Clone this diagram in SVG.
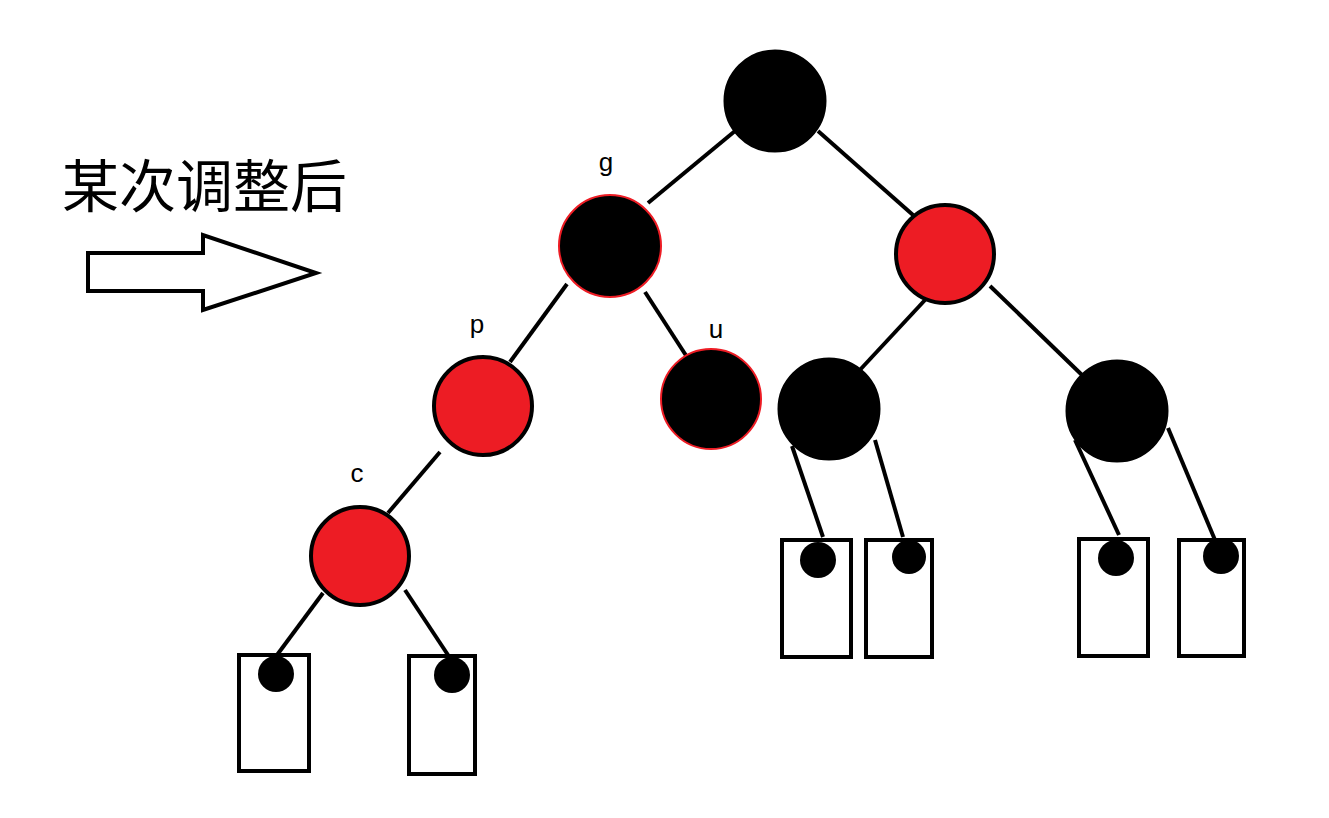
<svg xmlns="http://www.w3.org/2000/svg" width="1329" height="818" viewBox="0 0 1329 818">
<style>
.edge{stroke:#000;stroke-width:4;fill:none;stroke-linecap:butt}
.blk{fill:#000;stroke:#000;stroke-width:3}
.blkr{fill:#000;stroke:#ed1c24;stroke-width:2}
.red{fill:#ed1c24;stroke:#000;stroke-width:4}
.box{fill:#fff;stroke:#000;stroke-width:4}
.dot{fill:#000}
.lbl{font-family:"Liberation Sans",Arial,sans-serif;font-size:26px;fill:#000}
.title{font-family:"Noto Sans CJK SC","Noto Sans",sans-serif;font-size:57px;fill:#000}
</style>
<rect width="1329" height="818" fill="#fff"/>
<text class="title" x="62" y="207">某次调整后</text>
<polygon points="88,253 203,253 203,235 316,273 203,310 203,291 88,291" fill="#fff" stroke="#000" stroke-width="4" stroke-linejoin="miter"/>
<g id="connectors">
<line class="edge" x1="735" y1="131" x2="648" y2="203"/>
<line class="edge" x1="818" y1="131" x2="913" y2="215"/>
<line class="edge" x1="567" y1="284" x2="510" y2="362"/>
<line class="edge" x1="645" y1="292" x2="687" y2="357"/>
<line class="edge" x1="440" y1="452" x2="388" y2="513"/>
<line class="edge" x1="925" y1="300" x2="858" y2="372"/>
<line class="edge" x1="990" y1="286" x2="1082" y2="375"/>
<line class="edge" x1="323" y1="593" x2="277" y2="655"/>
<line class="edge" x1="405" y1="590" x2="448" y2="655"/>
<line class="edge" x1="792" y1="446" x2="823" y2="537"/>
<line class="edge" x1="875" y1="440" x2="903" y2="537"/>
<line class="edge" x1="1075" y1="440" x2="1119" y2="535"/>
<line class="edge" x1="1168" y1="428" x2="1215" y2="540"/>
</g>
<g id="root"><circle class="blk" cx="775" cy="101" r="50"/></g>
<g id="g"><circle class="blkr" cx="610" cy="246" r="51"/><text class="lbl" x="606" y="171" text-anchor="middle">g</text></g>
<g id="r1"><circle class="red" cx="945" cy="254" r="49"/></g>
<g id="p"><circle class="red" cx="483" cy="406" r="49"/><text class="lbl" x="477" y="333" text-anchor="middle">p</text></g>
<g id="u"><circle class="blkr" cx="711" cy="399" r="50"/><text class="lbl" x="716" y="338" text-anchor="middle">u</text></g>
<g id="c"><circle class="red" cx="360" cy="556" r="49"/><text class="lbl" x="357" y="482" text-anchor="middle">c</text></g>
<g id="b1"><circle class="blk" cx="829" cy="409" r="50"/></g>
<g id="b2"><circle class="blk" cx="1117" cy="411" r="50"/></g>
<g id="nil1"><rect class="box" x="239" y="655" width="70" height="116"/><circle class="dot" cx="276" cy="674" r="18"/></g>
<g id="nil2"><rect class="box" x="409" y="656" width="66" height="118"/><circle class="dot" cx="452" cy="675" r="18"/></g>
<g id="nil3"><rect class="box" x="782" y="540" width="69" height="117"/><circle class="dot" cx="818" cy="560" r="18"/></g>
<g id="nil4"><rect class="box" x="866" y="540" width="66" height="117"/><circle class="dot" cx="909" cy="557" r="17"/></g>
<g id="nil5"><rect class="box" x="1079" y="539" width="69" height="117"/><circle class="dot" cx="1116" cy="558" r="18"/></g>
<g id="nil6"><rect class="box" x="1179" y="540" width="65" height="116"/><circle class="dot" cx="1221" cy="556" r="18"/></g>
</svg>
